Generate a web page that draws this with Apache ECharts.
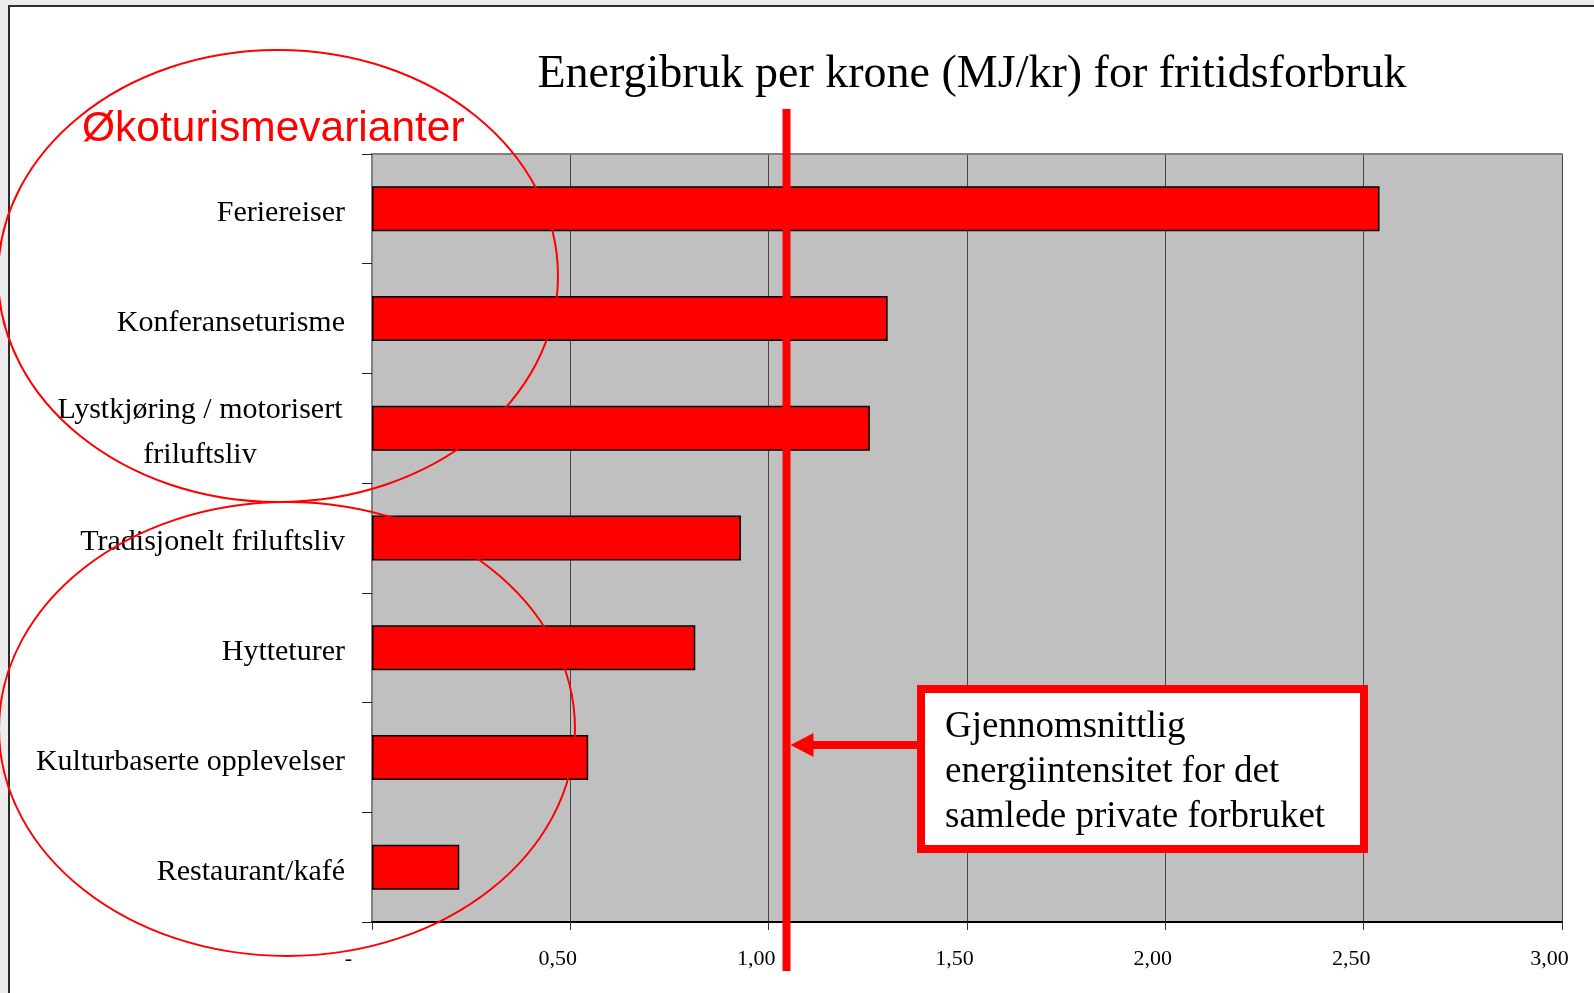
<!DOCTYPE html>
<html>
<head>
<meta charset="utf-8">
<script src="https://cdn.jsdelivr.net/npm/echarts@6/dist/echarts.min.js"></script>
<style>
  html, body { margin: 0; padding: 0; background: #ececec; }
  #frame { position: absolute; left: 8px; top: 5px; width: 1600px; height: 1000px; background: #fff;
           border-left: 2px solid #2b2b2b; border-top: 2px solid #2b2b2b; }
  #chart { position: absolute; left: 0; top: 0; width: 1594px; height: 993px; }
</style>
</head>
<body>
<div id="frame"></div>
<div id="chart"></div>
<script>
// ---- data ----
const titleText = 'Energibruk per krone (MJ/kr) for fritidsforbruk';
const categories = [
  'Feriereiser',
  'Konferanseturisme',
  'Lystkjøring / motorisert\nfriluftsliv',
  'Tradisjonelt friluftsliv',
  'Hytteturer',
  'Kulturbaserte opplevelser',
  'Restaurant/kafé'
];
const values = [2.54, 1.30, 1.255, 0.93, 0.815, 0.545, 0.22];
const xMin = 0, xMax = 3, xInterval = 0.5;
const avgIntensity = 1.045;
const avgLabel = 'Gjennomsnittlig\nenergiintensitet for det\nsamlede private forbruket';
const groupLabel = 'Økoturismevarianter';

const SERIF = '"Liberation Serif", "Times New Roman", serif';
const SANS = '"Liberation Sans", Arial, sans-serif';

const chart = echarts.init(document.getElementById('chart'), null, { renderer: 'canvas' });

function xLabel(v) {
  if (v === 0) return '{z|-}';
  return '{n|' + v.toFixed(2).replace('.', ',') + '}';
}
function yLabel(s) {
  if (s.indexOf('\n') >= 0) {
    return s.split('\n').map(t => '{c|' + t + '}').join('\n');
  }
  return '{p|' + s + '}';
}

chart.setOption({
  animation: false,
  title: {
    text: titleText, left: 972, top: 52, padding: 0, textAlign: 'center',
    textStyle: { fontFamily: SERIF, fontSize: 46, fontWeight: 'normal', color: '#000' }
  },
  grid: { left: 372, top: 154, width: 1190, height: 768, show: true,
          backgroundColor: '#c0c0c0', borderWidth: 0 },
  xAxis: [{
    type: 'value', min: xMin, max: xMax, interval: xInterval,
    axisLine: { show: true, lineStyle: { color: '#000', width: 2 } },
    axisTick: { show: true, length: 8, lineStyle: { color: '#333', width: 1 } },
    splitLine: { show: true, lineStyle: { color: '#444', width: 1 } },
    axisLabel: {
      margin: 26, color: '#000', fontFamily: SERIF, fontSize: 22,
      formatter: xLabel,
      rich: {
        n: { fontFamily: SERIF, fontSize: 22, color: '#000', padding: [0, 25, 0, 0] },
        z: { fontFamily: SERIF, fontSize: 22, color: '#000', padding: [0, 47, 0, 0] }
      }
    }
  }, {
    type: 'value', position: 'top', min: xMin, max: xMax, interval: xInterval,
    axisLine: { show: true, lineStyle: { color: '#808080', width: 2 } },
    axisTick: { show: false }, axisLabel: { show: false }, splitLine: { show: false }
  }],
  yAxis: [{
    type: 'category', data: categories, inverse: true,
    axisLine: { show: true, lineStyle: { color: '#000', width: 1 } },
    axisTick: { show: true, length: 10, lineStyle: { color: '#222', width: 1 } },
    axisLabel: {
      margin: 27, color: '#000', fontFamily: SERIF, fontSize: 30, align: 'right',
      padding: [9, 0, 0, 0],
      formatter: yLabel,
      rich: {
        p: { fontFamily: SERIF, fontSize: 30, color: '#000' },
        c: { fontFamily: SERIF, fontSize: 30, color: '#000', width: 290, align: 'center', lineHeight: 45 }
      }
    }
  }, {
    type: 'category', data: categories, inverse: true, position: 'right',
    axisLine: { show: true, lineStyle: { color: '#808080', width: 2 } },
    axisTick: { show: false }, axisLabel: { show: false }, splitLine: { show: false }
  }],
  series: [{
    type: 'bar', data: values, xAxisIndex: 0, yAxisIndex: 0, barWidth: 45,
    itemStyle: { color: '#ff0000', borderColor: '#000', borderWidth: 1.5 },
    z: 3
  }]
});

// annotation layer placed from the axis scale
const ax = chart.convertToPixel({ xAxisIndex: 0 }, avgIntensity);
const lineW = 8;
const arrowY = 745;
const boxL = 921, boxT = 689, boxW = 443, boxH = 160;

chart.setOption({
  graphic: [
    { type: 'ellipse', z: 50, silent: true,
      shape: { cx: 278, cy: 276, rx: 280, ry: 226 },
      style: { fill: 'none', stroke: '#ff0000', lineWidth: 2 } },
    { type: 'ellipse', z: 50, silent: true,
      shape: { cx: 287, cy: 729, rx: 288, ry: 227 },
      style: { fill: 'none', stroke: '#ff0000', lineWidth: 2 } },
    { type: 'text', z: 60, silent: true, x: 82, y: 129,
      style: { text: groupLabel, font: '42.5px ' + SANS, fill: '#ff0000', verticalAlign: 'middle', align: 'left' } },
    { type: 'line', z: 60, silent: true,
      shape: { x1: ax, y1: 109, x2: ax, y2: 971 },
      style: { stroke: '#ff0000', lineWidth: lineW } },
    { type: 'line', z: 60, silent: true,
      shape: { x1: ax + lineW / 2 + 20, y1: arrowY, x2: boxL, y2: arrowY },
      style: { stroke: '#ff0000', lineWidth: 8 } },
    { type: 'polygon', z: 60, silent: true,
      shape: { points: [[ax + lineW / 2, arrowY], [ax + lineW / 2 + 23, arrowY - 12], [ax + lineW / 2 + 23, arrowY + 12]] },
      style: { fill: '#ff0000' } },
    { type: 'rect', z: 61, silent: true,
      shape: { x: boxL, y: boxT, width: boxW, height: boxH },
      style: { fill: '#fff', stroke: '#ff0000', lineWidth: 8 } },
    { type: 'text', z: 62, silent: true, x: 945, y: 705,
      style: { text: avgLabel, font: '37px ' + SERIF, fill: '#000', lineHeight: 45, verticalAlign: 'top', align: 'left' } }
  ]
});
</script>
</body>
</html>
